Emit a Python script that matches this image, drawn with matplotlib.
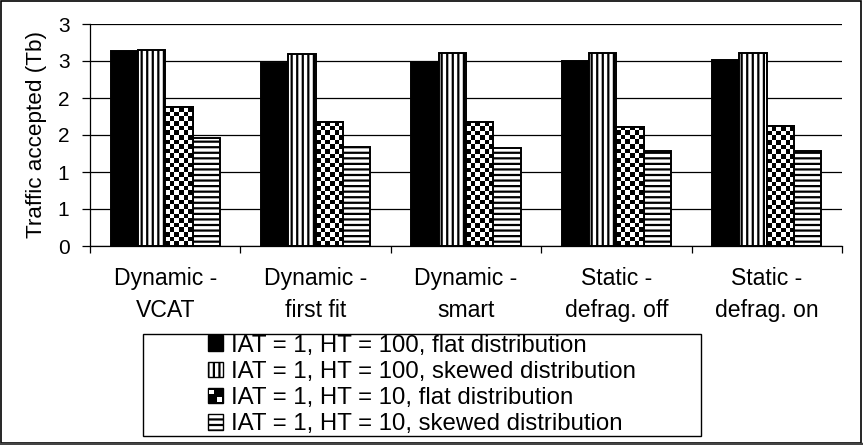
import numpy as np
import matplotlib
matplotlib.use("Agg")
import matplotlib.pyplot as plt
from matplotlib.patches import Rectangle
from matplotlib.lines import Line2D
from matplotlib.legend_handler import HandlerBase
from matplotlib.ticker import FuncFormatter, FixedLocator

plt.rcParams["font.family"] = ["Liberation Sans", "DejaVu Sans"]
plt.rcParams["hatch.linewidth"] = 1.6
plt.rcParams["hatch.color"] = "black"

categories = ["Dynamic -\nVCAT", "Dynamic -\nfirst fit", "Dynamic -\nsmart",
              "Static -\ndefrag. off", "Static -\ndefrag. on"]
series_names = ["IAT = 1, HT = 100, flat distribution",
                "IAT = 1, HT = 100, skewed distribution",
                "IAT = 1, HT = 10, flat distribution",
                "IAT = 1, HT = 10, skewed distribution"]
ht100_flat = [2.63, 2.47, 2.49, 2.50, 2.51]
ht100_skewed = [2.65, 2.60, 2.61, 2.61, 2.61]
ht10_flat = [1.88, 1.68, 1.67, 1.61, 1.62]
ht10_skewed = [1.46, 1.34, 1.33, 1.29, 1.29]
y_ticks = [0, 0.5, 1, 1.5, 2, 2.5, 3]


class CheckerHandler(HandlerBase):
    def create_artists(self, legend, orig_handle, xdescent, ydescent,
                       width, height, fontsize, trans):
        s = min(width, height)
        x0, y0 = -xdescent, -ydescent + (height - s) / 2
        arts = [Rectangle((x0, y0), s, s, facecolor="black",
                          edgecolor="black", lw=1.0, transform=trans)]
        h = s / 2
        for cx, cy in [(0, 1), (1, 0)]:
            arts.append(Rectangle((x0 + cx * h + 1, y0 + cy * h + 1), h - 2, h - 2,
                                  facecolor="white", lw=0, transform=trans))
        return arts


W, H = 863, 445
fig = plt.figure(figsize=(W / 100, H / 100), dpi=100)
ax = fig.add_axes([90 / W, 1 - 246 / H, 752 / W, 222 / H])

x = np.arange(len(categories))
w = 1 / 5.5
styles = [dict(facecolor="black", hatch=None),
          dict(facecolor="white", hatch="|||"),
          dict(facecolor="white", hatch=None),
          dict(facecolor="white", hatch="---")]
data = [ht100_flat, ht100_skewed, ht10_flat, ht10_skewed]
containers = []
for i, (vals, st) in enumerate(zip(data, styles)):
    bc = ax.bar(x + (i - 1.5) * w, vals, w, facecolor=st["facecolor"],
                hatch=st["hatch"], edgecolor="black", linewidth=1.4,
                zorder=3, label=series_names[i])
    containers.append(bc)

ax.set_xlim(-0.5, 4.5)
ax.set_ylim(0, 3)

# checkerboard fill for the "HT = 10, flat" bars
cell_px = 4.6
fig.canvas.draw()
for bar in containers[2]:
    bx, by = bar.get_x(), bar.get_y()
    bw, bh = bar.get_width(), bar.get_height()
    p0 = ax.transData.transform((bx, by))
    p1 = ax.transData.transform((bx + bw, by + bh))
    nx = max(1, int(round((p1[0] - p0[0]) / cell_px)))
    ny = max(1, int(np.ceil((p1[1] - p0[1]) / cell_px)))
    arr = (np.indices((ny, nx)).sum(axis=0) % 2).astype(float)
    top = by + ny * cell_px / (p1[1] - p0[1]) * bh
    im = ax.imshow(arr, extent=(bx, bx + bw, by, top), origin="lower",
                   cmap="gray", interpolation="nearest", aspect="auto", zorder=3.5)
    im.set_clip_path(bar)
    ax.add_patch(Rectangle((bx, by), bw, bh, facecolor="none",
                           edgecolor="black", lw=1.4, zorder=4))
ax.set_xlim(-0.5, 4.5)
ax.set_ylim(0, 3)

ax.yaxis.set_major_locator(FixedLocator(y_ticks))
ax.yaxis.set_major_formatter(FuncFormatter(lambda v, p: f"{int(np.floor(v + 0.5))}"))
ax.grid(axis="y", color="black", linewidth=0.9, zorder=0)
ax.set_axisbelow(True)

# labels are baseline-aligned on their last line
ax.set_xticks(x)
ax.set_xticklabels(categories, fontsize=16.6, va="baseline", linespacing=1.5)
ax.set_xticks(np.arange(-0.5, 5, 1), minor=True)
ax.tick_params(axis="x", which="major", length=0, pad=51)
ax.tick_params(axis="x", which="minor", length=5, width=0.9, direction="out")
ax.tick_params(axis="y", length=5.8, width=0.9, direction="out", pad=9, labelsize=15)

for side in ["top", "right"]:
    ax.spines[side].set_visible(False)
for side in ["left", "bottom"]:
    ax.spines[side].set_linewidth(0.9)

ax.set_ylabel("Traffic accepted (Tb)", fontsize=16.2)
ax.yaxis.set_label_coords(-43 / 752, 0.5)

handles = [Rectangle((0, 0), 1, 1, facecolor="black", edgecolor="black"),
           Rectangle((0, 0), 1, 1, facecolor="white", edgecolor="black", hatch="|||"),
           Rectangle((0, 0), 1, 1),
           Rectangle((0, 0), 1, 1, facecolor="white", edgecolor="black", hatch="---")]
leg = fig.legend(handles, series_names, loc="center",
                 bbox_to_anchor=(422 / W, 1 - 385 / H), fontsize=17.3,
                 handlelength=0.63, handleheight=0.63, handletextpad=0.33,
                 labelspacing=0.18, borderpad=0, borderaxespad=0,
                 frameon=False, handler_map={handles[2]: CheckerHandler()})

# Excel-style legend frame: wider than its entries, entries centred inside
fig.canvas.draw()
bb = leg.get_window_extent()
pad_x, pad_y = 65, 0.5
fig.patches.append(Rectangle((bb.x0 - pad_x, bb.y0 - pad_y), bb.width + 2 * pad_x,
                             bb.height + 2 * pad_y, transform=None, fill=False,
                             edgecolor="black", linewidth=1.0))

# outer chart border
fig.patches.append(Rectangle((0.001, 0.004), 0.997, 0.994, transform=fig.transFigure,
                             fill=False, edgecolor="black", linewidth=1.2))
fig.lines.append(Line2D([0, 1], [0.003, 0.003], transform=fig.transFigure,
                        color="#444444", linewidth=2.5))

fig.savefig("out.png", dpi=100)
